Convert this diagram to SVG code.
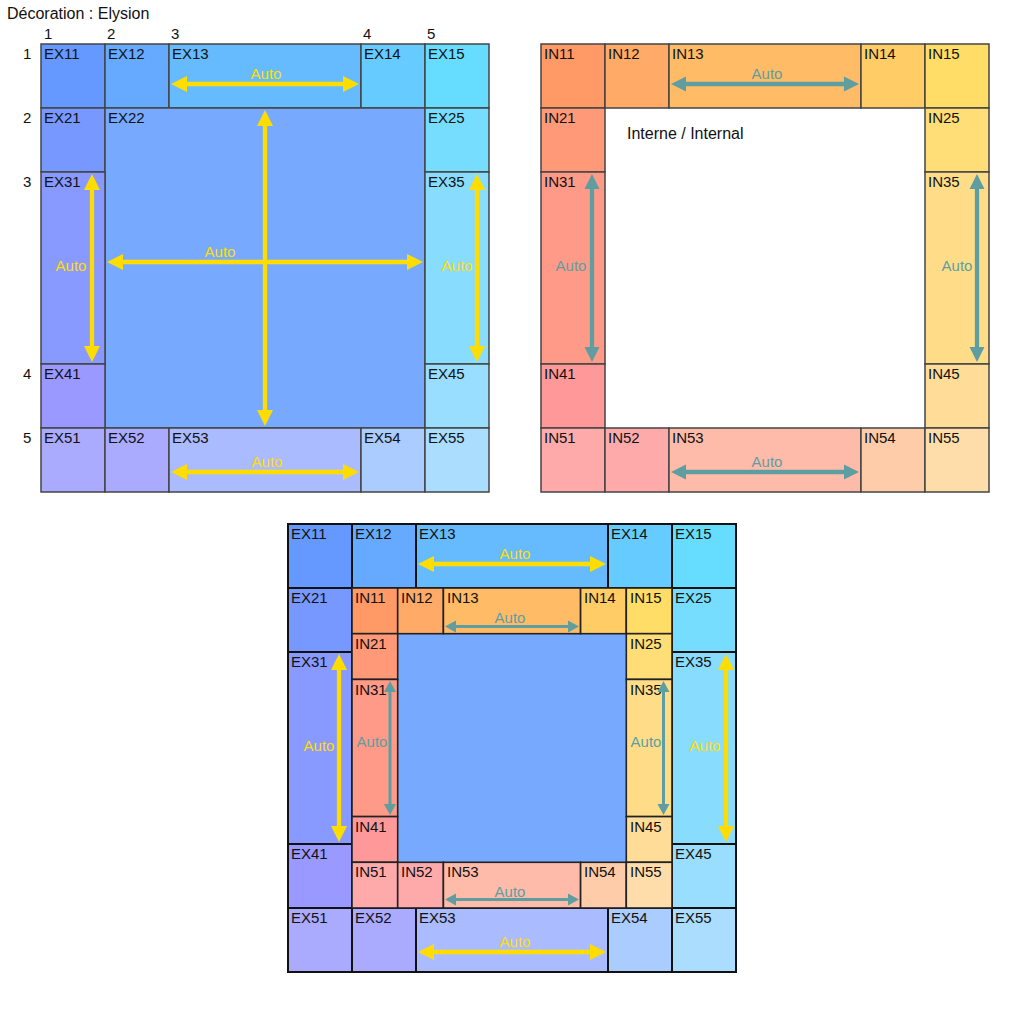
<svg xmlns="http://www.w3.org/2000/svg" width="1024" height="1024" viewBox="0 0 1024 1024">
<style>
text{font-family:"Liberation Sans",Arial,sans-serif;font-size:15px;fill:#111}
.title{font-size:16px}
.a{text-anchor:middle}
.ay{fill:#ffdd00}
.at{fill:#5f9ea0}
.g1 rect{stroke:#444;stroke-width:1.5}
.g2 rect{stroke:#111;stroke-width:2}
.g2 .in rect{stroke:#222;stroke-width:1.6}
.cen{fill:#77aaff;stroke:none!important}
.ey{stroke:#ffdd00;stroke-width:4.3;fill:none;marker-start:url(#yh);marker-end:url(#yh)}
.et{stroke:#5f9ea0;stroke-width:4.3;fill:none;marker-start:url(#th);marker-end:url(#th)}
.es{stroke:#5f9ea0;stroke-width:3;fill:none;marker-start:url(#ts);marker-end:url(#ts)}
.ex11{fill:#6699ff}.ex12{fill:#66aaff}.ex13{fill:#66bbff}.ex14{fill:#66ccff}.ex15{fill:#66ddff}
.ex21{fill:#7799ff}.ex22{fill:#77aaff}.ex25{fill:#77ddff}
.ex31{fill:#8899ff}.ex35{fill:#88ddff}
.ex41{fill:#9999ff}.ex45{fill:#99ddff}
.ex51{fill:#aaaaff}.ex52{fill:#aaaaff}.ex53{fill:#aabbff}.ex54{fill:#aaccff}.ex55{fill:#aaddff}
.in11{fill:#ff9966}.in12{fill:#ffaa66}.in13{fill:#ffbb66}.in14{fill:#ffcc66}.in15{fill:#ffdd66}
.in21{fill:#ff9977}.in25{fill:#ffdd77}
.in31{fill:#ff9988}.in35{fill:#ffdd88}
.in41{fill:#ff9999}.in45{fill:#ffdd99}
.in51{fill:#ffaaaa}.in52{fill:#ffaaaa}.in53{fill:#ffbbaa}.in54{fill:#ffccaa}.in55{fill:#ffddaa}
</style>
<defs>
<marker id="yh" markerUnits="userSpaceOnUse" markerWidth="16" markerHeight="16" refX="0" refY="8" orient="auto-start-reverse" overflow="visible"><path d="M0,0 L16,8 L0,16 z" fill="#ffdd00"/></marker>
<marker id="th" markerUnits="userSpaceOnUse" markerWidth="15" markerHeight="15" refX="0" refY="7.5" orient="auto-start-reverse" overflow="visible"><path d="M0,0 L15,7.5 L0,15 z" fill="#5f9ea0"/></marker>
<marker id="ts" markerUnits="userSpaceOnUse" markerWidth="11" markerHeight="12" refX="0" refY="6" orient="auto-start-reverse" overflow="visible"><path d="M0,0 L11,6 L0,12 z" fill="#5f9ea0"/></marker>
</defs>
<rect width="1024" height="1024" fill="#fff"/>
<text class="title" x="7" y="19">Décoration : Elysion</text>
<g id="axis">
<text x="44" y="39">1</text><text x="107" y="39">2</text><text x="171" y="39">3</text><text x="363" y="39">4</text><text x="427" y="39">5</text>
<text x="23" y="59">1</text><text x="23" y="123">2</text><text x="23" y="187">3</text><text x="23" y="379">4</text><text x="23" y="443">5</text>
</g>
<!-- External grid -->
<g class="g1" id="external">
<g id="t-EX11"><rect class="ex11" x="41" y="44" width="64" height="64"/><text x="44" y="59">EX11</text></g>
<g id="t-EX12"><rect class="ex12" x="105" y="44" width="64" height="64"/><text x="108" y="59">EX12</text></g>
<g id="t-EX13"><rect class="ex13" x="169" y="44" width="192" height="64"/><text x="172" y="59">EX13</text></g>
<g id="t-EX14"><rect class="ex14" x="361" y="44" width="64" height="64"/><text x="364" y="59">EX14</text></g>
<g id="t-EX15"><rect class="ex15" x="425" y="44" width="64" height="64"/><text x="428" y="59">EX15</text></g>
<g id="t-EX21"><rect class="ex21" x="41" y="108" width="64" height="64"/><text x="44" y="123">EX21</text></g>
<g id="t-EX22"><rect class="ex22" x="105" y="108" width="320" height="320"/><text x="108" y="123">EX22</text></g>
<g id="t-EX25"><rect class="ex25" x="425" y="108" width="64" height="64"/><text x="428" y="123">EX25</text></g>
<g id="t-EX31"><rect class="ex31" x="41" y="172" width="64" height="192"/><text x="44" y="187">EX31</text></g>
<g id="t-EX35"><rect class="ex35" x="425" y="172" width="64" height="192"/><text x="428" y="187">EX35</text></g>
<g id="t-EX41"><rect class="ex41" x="41" y="364" width="64" height="64"/><text x="44" y="379">EX41</text></g>
<g id="t-EX45"><rect class="ex45" x="425" y="364" width="64" height="64"/><text x="428" y="379">EX45</text></g>
<g id="t-EX51"><rect class="ex51" x="41" y="428" width="64" height="64"/><text x="44" y="443">EX51</text></g>
<g id="t-EX52"><rect class="ex52" x="105" y="428" width="64" height="64"/><text x="108" y="443">EX52</text></g>
<g id="t-EX53"><rect class="ex53" x="169" y="428" width="192" height="64"/><text x="172" y="443">EX53</text></g>
<g id="t-EX54"><rect class="ex54" x="361" y="428" width="64" height="64"/><text x="364" y="443">EX54</text></g>
<g id="t-EX55"><rect class="ex55" x="425" y="428" width="64" height="64"/><text x="428" y="443">EX55</text></g>
</g>
<!-- Internal grid -->
<g class="g1" id="internal">
<g id="t-IN11"><rect class="in11" x="541" y="44" width="64" height="64"/><text x="544" y="59">IN11</text></g>
<g id="t-IN12"><rect class="in12" x="605" y="44" width="64" height="64"/><text x="608" y="59">IN12</text></g>
<g id="t-IN13"><rect class="in13" x="669" y="44" width="192" height="64"/><text x="672" y="59">IN13</text></g>
<g id="t-IN14"><rect class="in14" x="861" y="44" width="64" height="64"/><text x="864" y="59">IN14</text></g>
<g id="t-IN15"><rect class="in15" x="925" y="44" width="64" height="64"/><text x="928" y="59">IN15</text></g>
<g id="t-IN21"><rect class="in21" x="541" y="108" width="64" height="64"/><text x="544" y="123">IN21</text></g>
<g id="t-IN25"><rect class="in25" x="925" y="108" width="64" height="64"/><text x="928" y="123">IN25</text></g>
<g id="t-IN31"><rect class="in31" x="541" y="172" width="64" height="192"/><text x="544" y="187">IN31</text></g>
<g id="t-IN35"><rect class="in35" x="925" y="172" width="64" height="192"/><text x="928" y="187">IN35</text></g>
<g id="t-IN41"><rect class="in41" x="541" y="364" width="64" height="64"/><text x="544" y="379">IN41</text></g>
<g id="t-IN45"><rect class="in45" x="925" y="364" width="64" height="64"/><text x="928" y="379">IN45</text></g>
<g id="t-IN51"><rect class="in51" x="541" y="428" width="64" height="64"/><text x="544" y="443">IN51</text></g>
<g id="t-IN52"><rect class="in52" x="605" y="428" width="64" height="64"/><text x="608" y="443">IN52</text></g>
<g id="t-IN53"><rect class="in53" x="669" y="428" width="192" height="64"/><text x="672" y="443">IN53</text></g>
<g id="t-IN54"><rect class="in54" x="861" y="428" width="64" height="64"/><text x="864" y="443">IN54</text></g>
<g id="t-IN55"><rect class="in55" x="925" y="428" width="64" height="64"/><text x="928" y="443">IN55</text></g>
<text x="627" y="139" style="font-size:16px">Interne / Internal</text>
</g>
<!-- Combined -->
<g class="g2" id="combined">
<g id="b-EX11"><rect class="ex11" x="288" y="524" width="64" height="64"/><text x="291" y="539">EX11</text></g>
<g id="b-EX12"><rect class="ex12" x="352" y="524" width="64" height="64"/><text x="355" y="539">EX12</text></g>
<g id="b-EX13"><rect class="ex13" x="416" y="524" width="192" height="64"/><text x="419" y="539">EX13</text></g>
<g id="b-EX14"><rect class="ex14" x="608" y="524" width="64" height="64"/><text x="611" y="539">EX14</text></g>
<g id="b-EX15"><rect class="ex15" x="672" y="524" width="64" height="64"/><text x="675" y="539">EX15</text></g>
<g id="b-EX21"><rect class="ex21" x="288" y="588" width="64" height="64"/><text x="291" y="603">EX21</text></g>
<g id="b-EX25"><rect class="ex25" x="672" y="588" width="64" height="64"/><text x="675" y="603">EX25</text></g>
<g id="b-EX31"><rect class="ex31" x="288" y="652" width="64" height="192"/><text x="291" y="667">EX31</text></g>
<g id="b-EX35"><rect class="ex35" x="672" y="652" width="64" height="192"/><text x="675" y="667">EX35</text></g>
<g id="b-EX41"><rect class="ex41" x="288" y="844" width="64" height="64"/><text x="291" y="859">EX41</text></g>
<g id="b-EX45"><rect class="ex45" x="672" y="844" width="64" height="64"/><text x="675" y="859">EX45</text></g>
<g id="b-EX51"><rect class="ex51" x="288" y="908" width="64" height="64"/><text x="291" y="923">EX51</text></g>
<g id="b-EX52"><rect class="ex52" x="352" y="908" width="64" height="64"/><text x="355" y="923">EX52</text></g>
<g id="b-EX53"><rect class="ex53" x="416" y="908" width="192" height="64"/><text x="419" y="923">EX53</text></g>
<g id="b-EX54"><rect class="ex54" x="608" y="908" width="64" height="64"/><text x="611" y="923">EX54</text></g>
<g id="b-EX55"><rect class="ex55" x="672" y="908" width="64" height="64"/><text x="675" y="923">EX55</text></g>
<g id="b-center"><rect class="cen" x="397.7" y="633.7" width="228.6" height="228.6"/></g>
<g class="in">
<g id="b-IN11"><rect class="in11" x="352" y="588" width="45.7" height="45.7"/><text x="355" y="603">IN11</text></g>
<g id="b-IN12"><rect class="in12" x="397.7" y="588" width="45.7" height="45.7"/><text x="401" y="603">IN12</text></g>
<g id="b-IN13"><rect class="in13" x="443.4" y="588" width="137.2" height="45.7"/><text x="447" y="603">IN13</text></g>
<g id="b-IN14"><rect class="in14" x="580.6" y="588" width="45.7" height="45.7"/><text x="584" y="603">IN14</text></g>
<g id="b-IN15"><rect class="in15" x="626.3" y="588" width="45.7" height="45.7"/><text x="630" y="603">IN15</text></g>
<g id="b-IN21"><rect class="in21" x="352" y="633.7" width="45.7" height="45.7"/><text x="355" y="649">IN21</text></g>
<g id="b-IN25"><rect class="in25" x="626.3" y="633.7" width="45.7" height="45.7"/><text x="630" y="649">IN25</text></g>
<g id="b-IN31"><rect class="in31" x="352" y="679.4" width="45.7" height="137.2"/><text x="355" y="695">IN31</text></g>
<g id="b-IN35"><rect class="in35" x="626.3" y="679.4" width="45.7" height="137.2"/><text x="630" y="695">IN35</text></g>
<g id="b-IN41"><rect class="in41" x="352" y="816.6" width="45.7" height="45.7"/><text x="355" y="832">IN41</text></g>
<g id="b-IN45"><rect class="in45" x="626.3" y="816.6" width="45.7" height="45.7"/><text x="630" y="832">IN45</text></g>
<g id="b-IN51"><rect class="in51" x="352" y="862.3" width="45.7" height="45.7"/><text x="355" y="877">IN51</text></g>
<g id="b-IN52"><rect class="in52" x="397.7" y="862.3" width="45.7" height="45.7"/><text x="401" y="877">IN52</text></g>
<g id="b-IN53"><rect class="in53" x="443.4" y="862.3" width="137.2" height="45.7"/><text x="447" y="877">IN53</text></g>
<g id="b-IN54"><rect class="in54" x="580.6" y="862.3" width="45.7" height="45.7"/><text x="584" y="877">IN54</text></g>
<g id="b-IN55"><rect class="in55" x="626.3" y="862.3" width="45.7" height="45.7"/><text x="630" y="877">IN55</text></g>
</g>
</g>
<g id="connectors">
<path class="ey" d="M187,84 H343"/>
<path class="ey" d="M123,262 H407"/>
<path class="ey" d="M265,126 V410"/>
<path class="ey" d="M92,190 V346"/>
<path class="ey" d="M477,190 V346"/>
<path class="ey" d="M187,472 H343"/>
<path class="et" d="M686,84 H844"/>
<path class="et" d="M592,189 V347"/>
<path class="et" d="M977,189 V347"/>
<path class="et" d="M686,472 H844"/>
<path class="ey" d="M434,564 H590"/>
<path class="ey" d="M434,952 H590"/>
<path class="ey" d="M339,670 V826"/>
<path class="ey" d="M726,670 V826"/>
<path class="es" d="M456,626.5 H568"/>
<path class="es" d="M456,899.5 H568"/>
<path class="es" d="M390,692 V804"/>
<path class="es" d="M663.5,692 V804"/>
</g>
<g id="labels">
<text class="a ay" x="266" y="79">Auto</text>
<text class="a ay" x="220" y="257">Auto</text>
<text class="a ay" x="71" y="271">Auto</text>
<text class="a ay" x="457" y="271">Auto</text>
<text class="a ay" x="267" y="467">Auto</text>
<text class="a at" x="767" y="79">Auto</text>
<text class="a at" x="571" y="271">Auto</text>
<text class="a at" x="957" y="271">Auto</text>
<text class="a at" x="767" y="467">Auto</text>
<text class="a ay" x="515" y="559">Auto</text>
<text class="a ay" x="515" y="947">Auto</text>
<text class="a ay" x="319" y="751">Auto</text>
<text class="a ay" x="705" y="751">Auto</text>
<text class="a at" x="510" y="623">Auto</text>
<text class="a at" x="510" y="897">Auto</text>
<text class="a at" x="372" y="747">Auto</text>
<text class="a at" x="646" y="747">Auto</text>
</g>
</svg>
